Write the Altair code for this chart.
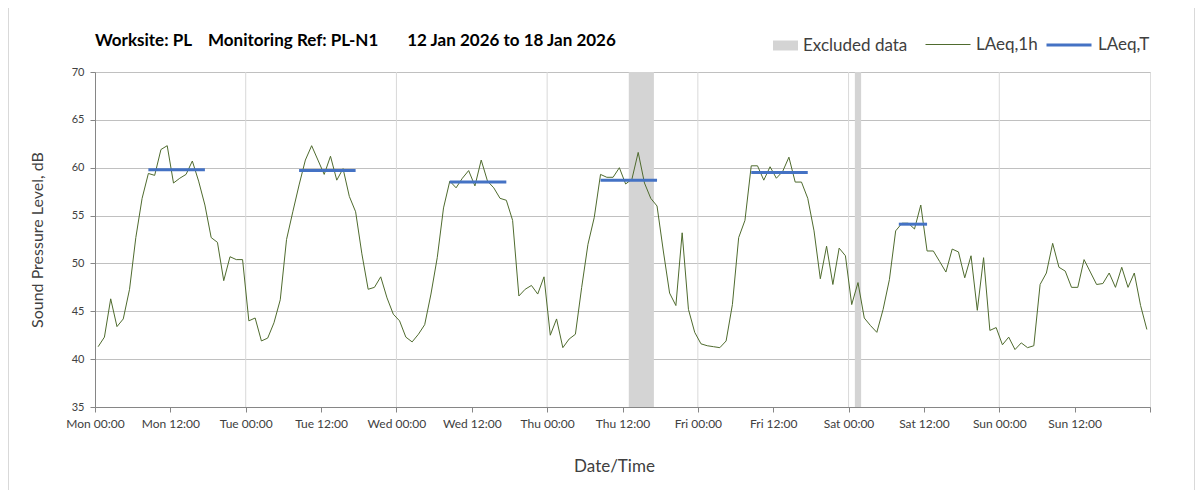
import json
import altair as alt
import pandas as pd

# ---------------- data ----------------
tick_labels = ["Mon 00:00", "Mon 12:00", "Tue 00:00", "Tue 12:00", "Wed 00:00",
               "Wed 12:00", "Thu 00:00", "Thu 12:00", "Fri 00:00", "Fri 12:00",
               "Sat 00:00", "Sat 12:00", "Sun 00:00", "Sun 12:00"]
tick_hours = [0, 12, 24, 36, 48, 60, 72, 84, 96, 108, 120, 132, 144, 156, 168]
day_lines = [24, 48, 72, 96, 120, 144]
y_ticks = [35, 40, 45, 50, 55, 60, 65, 70]

# hourly LAeq,1h (Mon 00:00 ... Sun 23:00), plotted at the middle of each hour
laeq_1h = [
    41.3, 42.3, 46.3, 43.4, 44.2, 47.3, 52.7, 56.8, 59.4, 59.2, 61.9, 62.3,
    58.4, 58.9, 59.3, 60.7, 58.6, 56.1, 52.7, 52.2, 48.2, 50.7, 50.4, 50.4,
    44.0, 44.3, 41.9, 42.2, 43.8, 46.2, 52.5, 55.4, 58.2, 60.8, 62.3, 60.8,
    59.3, 61.2, 58.7, 59.9, 57.0, 55.4, 51.0, 47.3, 47.5, 48.6, 46.4, 44.7,
    44.0, 42.3, 41.8, 42.6, 43.6, 46.8, 50.6, 55.8, 58.6, 57.9, 58.9, 59.7,
    58.1, 60.8, 58.6, 57.9, 56.8, 56.6, 54.5, 46.6, 47.3, 47.7, 46.8, 48.6,
    42.5, 44.2, 41.2, 42.1, 42.6, 47.5, 52.0, 54.8, 59.3, 59.0, 59.0, 60.0,
    58.3, 58.8, 61.6, 58.4, 56.8, 56.0, 51.3, 46.9, 45.6, 53.2, 45.2, 42.8,
    41.6, 41.4, 41.3, 41.2, 41.9, 45.7, 52.7, 54.5, 60.2, 60.2, 58.7, 60.1,
    58.9, 59.6, 61.1, 58.5, 58.5, 56.8, 53.4, 48.4, 51.8, 47.8, 51.6, 50.8,
    45.7, 48.0, 44.3, 43.5, 42.8, 45.2, 48.3, 53.4, 54.2, 54.2, 53.6, 56.1,
    51.3, 51.3, 50.2, 49.1, 51.5, 51.2, 48.5, 50.8, 45.1, 50.6, 43.0, 43.3,
    41.5, 42.3, 41.0, 41.7, 41.2, 41.4, 47.8, 49.0, 52.1, 49.6, 49.2, 47.5,
    47.5, 50.4, 49.1, 47.8, 47.9, 49.0, 47.5, 49.6, 47.5, 49.0, 45.6, 43.1,
]
hour_mid = [h + 0.5 for h in range(len(laeq_1h))]

# LAeq,T daytime periods (hours from Mon 00:00)
laeq_t_start = [8.5, 32.5, 56.5, 80.5, 104.5, 128.0]
laeq_t_end = [17.5, 41.5, 65.5, 89.5, 113.5, 132.5]
laeq_t_value = [59.8, 59.7, 58.5, 58.7, 59.5, 54.1]

# excluded periods (hours from Mon 00:00)
excluded_start = [85, 121]
excluded_end = [89, 122]

title_text = ("Worksite: PL\u00a0\u00a0\u00a0 Monitoring Ref: PL-N1"
              "\u00a0\u00a0\u00a0\u00a0\u00a0\u00a0 12 Jan 2026 to 18 Jan 2026")

# ---------------- styling ----------------
FONT = "Lato"
TXT = "#404040"
W, H = 1055, 335

hourly = pd.DataFrame({"hour": hour_mid, "level": laeq_1h, "series": "LAeq,1h"})
periods = pd.DataFrame({"start": laeq_t_start, "end": laeq_t_end,
                        "level": laeq_t_value, "series": "LAeq,T"})
excl = pd.DataFrame({"start": excluded_start, "end": excluded_end,
                     "label": "Excluded data"})
grid_df = pd.DataFrame({"hour": day_lines})

label_expr = json.dumps(tick_labels) + "[round(datum.value / 12)] || ''"

x_scale = alt.Scale(domain=[0, 168], nice=False, zero=False)
y_scale = alt.Scale(domain=[35, 70], nice=False, zero=False)

x_axis = alt.Axis(values=tick_hours, labelExpr=label_expr, grid=False,
                  domainColor="#868686", tickColor="#868686", tickSize=5,
                  labelFont=FONT, labelFontSize=12, labelColor=TXT,
                  labelPadding=6, labelFlush=False, labelOverlap=False,
                  title="Date/Time", titleFont=FONT, titleFontSize=17,
                  titleFontWeight="normal", titleColor=TXT, titlePadding=29,
                  titleX=519, titleAlign="center")
y_axis = alt.Axis(values=y_ticks, grid=True, gridColor="#c0c0c0",
                  domainColor="#868686", tickColor="#868686", tickSize=5,
                  labelFont=FONT, labelFontSize=11, labelColor=TXT,
                  labelPadding=6,
                  title="Sound Pressure Level, dB", titleFont=FONT,
                  titleFontSize=16, titleFontWeight="normal", titleColor=TXT,
                  titlePadding=26)

excl_layer = alt.Chart(excl).mark_rect(opacity=1).encode(
    x=alt.X("start:Q", scale=x_scale, axis=x_axis),
    x2="end:Q",
    y=alt.datum(35, scale=y_scale),
    y2=alt.datum(70),
    fill=alt.Fill("label:N",
                  scale=alt.Scale(domain=["Excluded data"], range=["#d4d4d4"]),
                  legend=alt.Legend(title=None, orient="none", legendX=678,
                                    legendY=-39, direction="horizontal",
                                    symbolType="M-1,-0.4H1V0.4H-1Z",
                                    symbolSize=625, symbolStrokeWidth=0,
                                    labelFont=FONT, labelFontSize=17,
                                    labelColor=TXT, labelOffset=5)),
)

grid_layer = alt.Chart(grid_df).mark_rule(color="#d9d9d9", strokeWidth=1).encode(
    x=alt.X("hour:Q", scale=x_scale),
)

stroke_scale = alt.Scale(domain=["LAeq,1h", "LAeq,T"], range=["#4f6b2e", "#4472c4"])
width_scale = alt.Scale(domain=["LAeq,1h", "LAeq,T"], range=[1, 3])
line_legend = alt.Legend(title=None, orient="none", legendX=830, legendY=-51,
                         direction="horizontal", symbolType="stroke",
                         symbolSize=2025, labelFont=FONT, labelFontSize=17,
                         labelColor=TXT, labelOffset=5, columnPadding=2)

line_layer = alt.Chart(hourly).mark_line(interpolate="linear").encode(
    x=alt.X("hour:Q", scale=x_scale),
    y=alt.Y("level:Q", scale=y_scale, axis=y_axis),
    stroke=alt.Stroke("series:N", scale=stroke_scale, legend=line_legend),
    strokeWidth=alt.StrokeWidth("series:N", scale=width_scale, legend=line_legend),
)

period_layer = alt.Chart(periods).mark_rule(strokeCap="butt").encode(
    x=alt.X("start:Q", scale=x_scale),
    x2="end:Q",
    y=alt.Y("level:Q", scale=y_scale),
    stroke=alt.Stroke("series:N", scale=stroke_scale, legend=line_legend),
    strokeWidth=alt.StrokeWidth("series:N", scale=width_scale, legend=line_legend),
)

# chart title (as text placed above the plot area)
title_layer = alt.Chart(pd.DataFrame({"t": [title_text]})).mark_text(
    align="left", baseline="alphabetic", font=FONT, fontSize=17,
    fontWeight="bold", color="#000000").encode(
    text="t:N", x=alt.value(0), y=alt.value(-26))

# faint chart-area frame (left and right edges)
frame_df = pd.DataFrame({"k": [0]})
frame_left = alt.Chart(frame_df).mark_rule(color="#d9d9d9", strokeWidth=1).encode(
    x=alt.value(-86.5), y=alt.value(-64), y2=alt.value(418))
frame_right = alt.Chart(frame_df).mark_rule(color="#d9d9d9", strokeWidth=1).encode(
    x=alt.value(1099.5), y=alt.value(-64), y2=alt.value(418))

chart = alt.layer(excl_layer, grid_layer, line_layer, period_layer,
                  title_layer, frame_left, frame_right).properties(
    width=W, height=H,
    padding={"left": 87, "top": 64, "right": 45, "bottom": 83},
    autosize=alt.AutoSizeParams(type="none"),
).resolve_scale(strokeWidth="shared", stroke="shared").configure_view(
    stroke="#c0c0c0", strokeWidth=1
).configure(background="white")

chart.save("out.html", embed_options={"renderer": "svg", "actions": False})
